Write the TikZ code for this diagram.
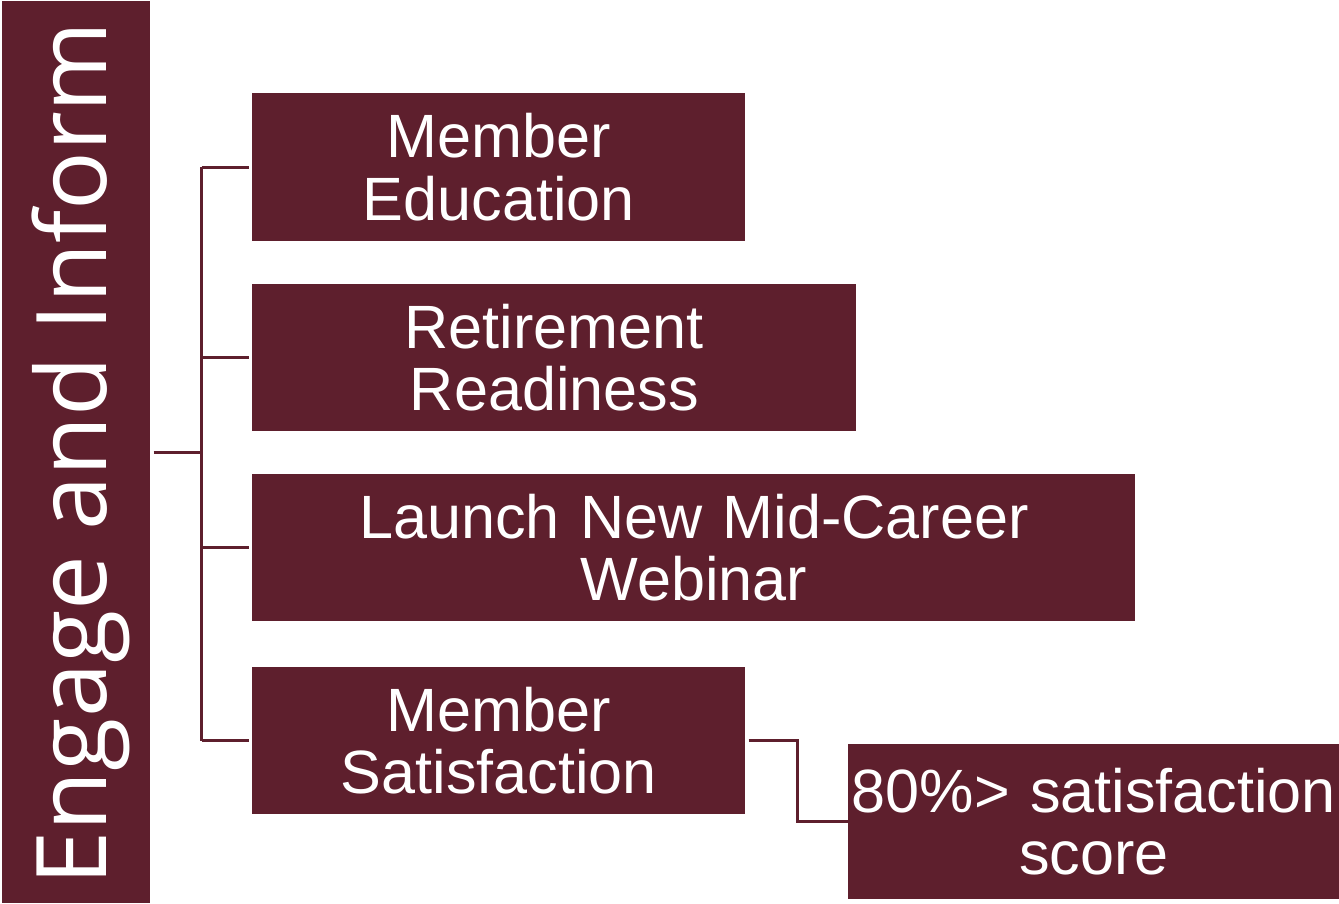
\documentclass[tikz,border=0pt]{standalone}
\usepackage{fontspec}
\setmainfont{Liberation Sans}
\newfontfamily\bannerfont{Open Sans}
\usetikzlibrary{positioning,calc}
\definecolor{maroon}{HTML}{5E1F2D}

\begin{document}
\begin{tikzpicture}[
  font=\fontsize{34.8}{35.4}\selectfont,
  goal/.style={rectangle, fill=maroon, text=white, inner xsep=0pt,
               inner ysep=0pt, text width=#1, minimum height=2.95cm,
               align=center, anchor=north west},
  bar/.style={rectangle, fill=maroon, inner sep=0pt, minimum width=2.96cm,
              minimum height=18.04cm, anchor=north west},
  link/.style={draw=maroon, line width=1.6pt}
]
\useasboundingbox (0,0) rectangle (26.78,-18.08);

% ---- side banner ----
\node[bar] (bar) at (0.04,-0.02) {};
\node[rotate=90, anchor=base, text=white,
      font=\bannerfont\fontsize{55.5}{60}\selectfont] (title)
  at (2.12,-9.07) {Engage and Inform};

% ---- goals ----
\node[goal=9.86cm] (edu) at (5.04,-1.86) {Member\\Education};
\node[goal=12.08cm, below=0.84cm of edu.south west, anchor=north west] (ret)
  {Retirement\\Readiness};
\node[goal=17.66cm, below=0.84cm of ret.south west, anchor=north west] (web)
  {Launch New Mid-Career\\Webinar};
\node[goal=9.86cm, below=0.9cm of web.south west, anchor=north west] (sat)
  {Member\\Satisfaction};
\node[goal=9.82cm, minimum height=3.1cm] (score) at (16.96,-14.88)
  {80\%> satisfaction\\score};

% ---- connectors ----
\coordinate (hub) at ($(bar.east)+(1.02,0)$);
\draw[link] ([xshift=0.06cm]bar.east) -- (hub);
\draw[link] (hub |- edu.west) -- (hub |- sat.west);
\foreach \n in {edu,ret,web,sat}
  \draw[link] (hub |- \n.west) -- ([xshift=-0.06cm]\n.west);
\draw[link] ([xshift=0.06cm]sat.east) -- ++(0.98,0) |- (score.west);
\end{tikzpicture}
\end{document}
